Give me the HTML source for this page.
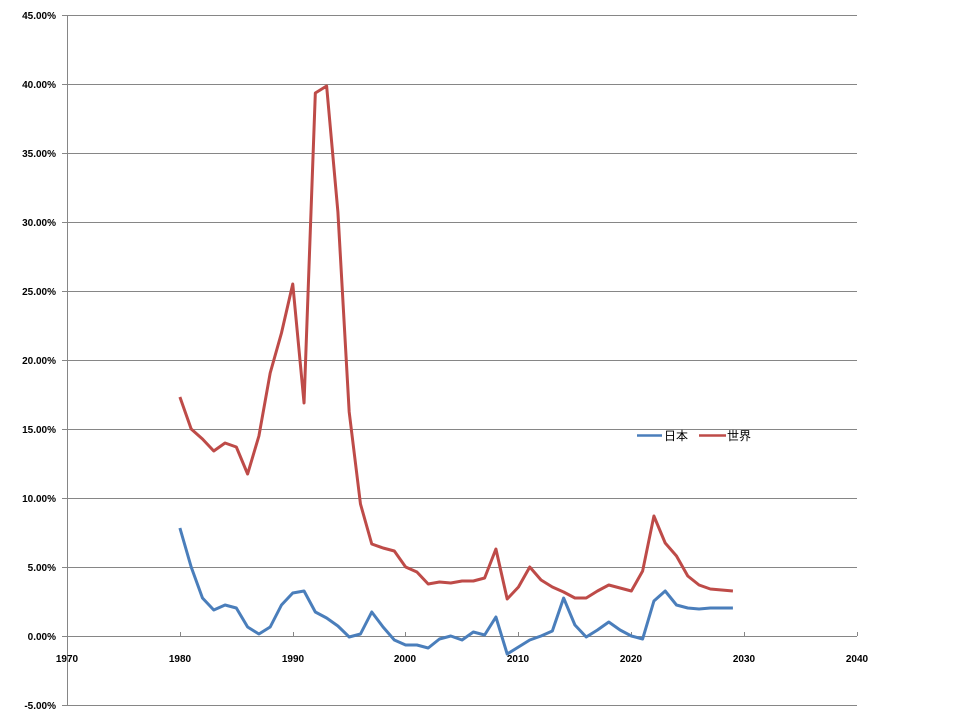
<!DOCTYPE html>
<html><head><meta charset="utf-8"><style>
html,body{margin:0;padding:0;background:#fff;}
svg{display:block;font-family:"Liberation Sans","Noto Sans CJK JP",sans-serif;}
.yl{font-size:10px;font-weight:bold;text-anchor:end;fill:#000;}
.xl{font-size:10px;font-weight:bold;text-anchor:middle;fill:#000;}
</style></head><body>
<svg width="960" height="720" viewBox="0 0 960 720">
<g stroke="#868686" stroke-width="1">
<line x1="62" y1="15.5" x2="857" y2="15.5"/>
<line x1="62" y1="84.5" x2="857" y2="84.5"/>
<line x1="62" y1="153.5" x2="857" y2="153.5"/>
<line x1="62" y1="222.5" x2="857" y2="222.5"/>
<line x1="62" y1="291.5" x2="857" y2="291.5"/>
<line x1="62" y1="360.5" x2="857" y2="360.5"/>
<line x1="62" y1="429.5" x2="857" y2="429.5"/>
<line x1="62" y1="498.5" x2="857" y2="498.5"/>
<line x1="62" y1="567.5" x2="857" y2="567.5"/>
<line x1="62" y1="636.5" x2="857" y2="636.5"/>
<line x1="62" y1="705.5" x2="857" y2="705.5"/>
<line x1="67.5" y1="15" x2="67.5" y2="706"/>
<line x1="180.5" y1="632" x2="180.5" y2="636"/>
<line x1="293.5" y1="632" x2="293.5" y2="636"/>
<line x1="405.5" y1="632" x2="405.5" y2="636"/>
<line x1="518.5" y1="632" x2="518.5" y2="636"/>
<line x1="631.5" y1="632" x2="631.5" y2="636"/>
<line x1="744.5" y1="632" x2="744.5" y2="636"/>
<line x1="857.5" y1="632" x2="857.5" y2="636"/>
</g>
<g class="yl">
<text x="56" y="19">45.00%</text>
<text x="56" y="88">40.00%</text>
<text x="56" y="157">35.00%</text>
<text x="56" y="226">30.00%</text>
<text x="56" y="295">25.00%</text>
<text x="56" y="364">20.00%</text>
<text x="56" y="433">15.00%</text>
<text x="56" y="502">10.00%</text>
<text x="56" y="571">5.00%</text>
<text x="56" y="640">0.00%</text>
<text x="56" y="709">-5.00%</text>
</g>
<g class="xl">
<text x="67" y="662">1970</text>
<text x="180" y="662">1980</text>
<text x="293" y="662">1990</text>
<text x="405" y="662">2000</text>
<text x="518" y="662">2010</text>
<text x="631" y="662">2020</text>
<text x="744" y="662">2030</text>
<text x="857" y="662">2040</text>
</g>
<g transform="translate(179.9,0) scale(11.286,1)" fill="none" stroke-width="3" stroke-linejoin="round">
<polyline vector-effect="non-scaling-stroke" stroke="#be4b48" points="0,397 1,429 2,439 3,451 4,443 5,447 6,474 7,436 8,373 9,333 10,284 11,403 12,93 13,86 14,212 15,412 16,504 17,544 18,548 19,551 20,567 21,572 22,584 23,582 24,583 25,581 26,581 27,578 28,549 29,599 30,587 31,567 32,580 33,587 34,592 35,598 36,598 37,591 38,585 39,588 40,591 41,571 42,516 43,543 44,556 45,576 46,585 47,589 48,590 49,591"/>
<polyline vector-effect="non-scaling-stroke" stroke="#4a7ebb" points="0,528 1,567 2,598 3,610 4,605 5,608 6,627 7,634 8,627 9,605 10,593 11,591 12,612 13,618 14,626 15,637 16,634 17,612 18,627 19,640 20,645 21,645 22,648 23,639 24,636 25,640 26,632 27,635 28,617 29,654 30,647 31,640 32,636 33,631 34,598 35,625 36,637 37,630 38,622 39,630 40,636 41,639 42,601 43,591 44,605 45,608 46,609 47,608 48,608 49,608"/>
</g>
<line x1="637" y1="435.5" x2="662" y2="435.5" stroke="#4a7ebb" stroke-width="2.5"/>
<text x="664" y="440" font-size="12" fill="#000">日本</text>
<line x1="699" y1="435.5" x2="726" y2="435.5" stroke="#be4b48" stroke-width="2.5"/>
<text x="727" y="440" font-size="12" fill="#000">世界</text>
</svg>
</body></html>
